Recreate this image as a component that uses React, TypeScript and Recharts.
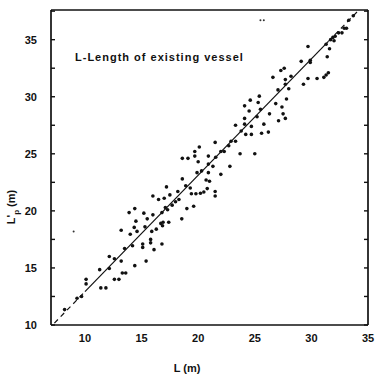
import React from 'react';
import { ScatterChart, Scatter, XAxis, YAxis, ReferenceLine } from 'recharts';

const lengthL = [
  8.2, 9.3, 9.7, 10.1, 10.1, 11.3, 11.4, 11.85, 12.15, 12.15,
  12.6, 12.6, 13.0, 13.2, 13.3, 13.6, 13.2, 13.5, 13.9, 14.0,
  14.2, 14.35, 14.4, 14.4, 14.5, 14.6, 15.1, 15.1, 15.2, 15.3,
  15.4, 15.5, 15.8, 15.8, 15.9, 16.0, 16.0, 16.1, 16.3, 16.5,
  16.7, 16.8, 16.8, 16.85, 16.9, 17.0, 17.1, 17.2, 17.3, 17.4,
  17.5, 17.7, 18.0, 18.2, 18.3, 18.55, 18.6, 18.6, 19.1, 18.9,
  19.0, 19.3, 19.4, 19.6, 19.7, 19.7, 19.8, 20.2, 20.5, 19.9,
  20.0, 20.1, 20.3, 20.7, 21.0, 20.8, 20.9, 20.9, 20.9, 21.3,
  21.5, 21.5, 21.5, 21.55, 22.0, 22.0, 22.3, 22.7, 22.9, 22.8,
  23.3, 23.3, 23.7, 23.8, 24.1, 24.1, 24.1, 24.2, 24.5, 24.6,
  24.7, 24.7, 25.0, 25.2, 25.3, 25.4, 25.5, 25.6, 25.8, 26.2,
  26.3, 26.6, 26.85, 27.05, 27.1, 27.3, 27.4, 27.5, 27.6, 27.7,
  27.7, 27.7, 27.8, 28.0, 28.2, 29.1, 29.3, 29.7, 29.7, 29.9,
  29.9, 30.5, 31.1, 31.3, 31.5, 31.4, 31.6, 31.3, 31.7, 31.9,
  32.1, 32.0, 32.4, 32.7, 32.9, 33.1, 33.3, 33.7,
];

const lengthLp = [
  11.35, 12.35, 12.5, 14.0, 13.6, 14.85, 13.25, 13.25, 16.0, 14.95,
  15.8, 14.0, 14.0, 15.6, 14.55, 14.55, 18.3, 16.7, 19.85, 17.95,
  16.95, 18.55, 15.2, 20.2, 19.1, 18.2, 16.8, 17.1, 19.8, 18.6,
  15.6, 19.3, 17.2, 17.5, 18.2, 19.65, 21.3, 16.6, 18.4, 21.0,
  18.9, 19.85, 17.1, 18.7, 19.0, 21.1, 20.3, 22.1, 20.1, 19.0,
  21.4, 20.5, 20.8, 21.7, 21.0, 19.3, 22.8, 24.6, 24.6, 22.2,
  20.2, 22.0, 21.5, 20.4, 25.2, 24.8, 21.5, 21.55, 21.65, 23.35,
  24.3, 25.6, 23.5, 22.7, 22.6, 21.95, 23.35, 24.1, 24.8, 23.9,
  21.7, 21.3, 26.0, 24.7, 23.2, 25.2, 25.2, 25.7, 26.1, 23.9,
  27.5, 26.1, 25.0, 27.0, 28.1, 27.6, 29.2, 26.7, 28.75, 29.7,
  26.7, 27.4, 25.0, 28.25, 29.5, 30.05, 28.9, 26.8, 27.6, 26.9,
  28.5, 31.7, 29.4, 30.6, 27.9, 32.3, 29.1, 28.5, 32.5, 31.5,
  31.1, 28.1, 29.8, 30.7, 31.8, 33.1, 31.1, 34.4, 31.6, 33.2,
  33.0, 31.6, 31.7, 31.9, 32.1, 33.5, 34.2, 34.6, 35.0, 35.2,
  35.3, 34.9, 35.6, 35.6, 36.0, 36.0, 36.7, 37.1,
];

// faint specks in the scan
const speckL = [9.0, 25.5, 25.8];
const speckLp = [18.2, 36.7, 36.7];

// fitted line (dashed ends, solid middle)
const lineStart = { x: 7.3, y: 10.17 };
const solidStart = { x: 10, y: 12.92 };
const solidEnd = { x: 31.5, y: 34.85 };
const lineEnd = { x: 34.1, y: 37.5 };

const xTicks = [10, 12.5, 15, 17.5, 20, 22.5, 25, 27.5, 30, 32.5, 35];
const yTicks = [10, 12.5, 15, 17.5, 20, 22.5, 25, 27.5, 30, 32.5, 35, 37.5];
const xLabelTicks = [10, 15, 20, 25, 30, 35];
const yLabelTicks = [10, 15, 20, 25, 30, 35];

const X_DOMAIN: [number, number] = [7, 35];
const Y_DOMAIN: [number, number] = [10, 37.6];

const points = lengthL.map((L, i) => ({ L, Lp: lengthLp[i] }));
const specks = speckL.map((L, i) => ({ L, Lp: speckLp[i] }));

const blank = () => '';

const tickStyle = { fontSize: 11, fontWeight: 700, fill: '#111', fontFamily: 'Liberation Sans, Arial, sans-serif' };
const frameLine = { stroke: '#111', strokeWidth: 1.7 };
const tickLineStyle = { stroke: '#111', strokeWidth: 1.4 };

const Dot = (props: any) => {
  const { cx, cy } = props;
  if (cx == null || cy == null) return null;
  return <circle cx={cx} cy={cy} r={1.8} fill="#111" />;
};

const Speck = (props: any) => {
  const { cx, cy } = props;
  if (cx == null || cy == null) return null;
  return <circle cx={cx} cy={cy} r={1} fill="#333" />;
};

export default function App() {
  return (
    <div style={{ position: 'absolute', left: 0, top: 0, width: 376, height: 379, background: '#fff', fontFamily: 'Liberation Sans, Arial, sans-serif' }}>
      <ScatterChart width={376} height={379} margin={{ top: 10, right: 8, bottom: 0, left: 0 }}>
        {/* labelled axes */}
        <XAxis xAxisId="b" dataKey="L" type="number" domain={X_DOMAIN} allowDataOverflow
          ticks={xLabelTicks} height={54} tickSize={0} tickMargin={9} tick={tickStyle}
          axisLine={frameLine} tickLine={false} />
        <YAxis yAxisId="l" dataKey="Lp" type="number" domain={Y_DOMAIN} allowDataOverflow
          ticks={yLabelTicks} width={51} tickSize={0} tickMargin={14} tick={tickStyle}
          axisLine={frameLine} tickLine={false} />
        {/* inward tick marks on all four sides */}
        <XAxis xAxisId="bm" type="number" domain={X_DOMAIN} allowDataOverflow mirror
          ticks={xTicks} tickFormatter={blank} tickSize={4} height={10}
          axisLine={false} tickLine={tickLineStyle} />
        <XAxis xAxisId="tm" orientation="top" type="number" domain={X_DOMAIN} allowDataOverflow mirror
          ticks={xTicks} tickFormatter={blank} tickSize={4} height={10}
          axisLine={frameLine} tickLine={tickLineStyle} />
        <YAxis yAxisId="lm" type="number" domain={Y_DOMAIN} allowDataOverflow mirror
          ticks={yTicks} tickFormatter={blank} tickSize={4} width={10}
          axisLine={false} tickLine={tickLineStyle} />
        <YAxis yAxisId="rm" orientation="right" type="number" domain={Y_DOMAIN} allowDataOverflow mirror
          ticks={yTicks} tickFormatter={blank} tickSize={4} width={10}
          axisLine={frameLine} tickLine={tickLineStyle} />
        <ReferenceLine xAxisId="b" yAxisId="l" segment={[lineStart, solidStart]} stroke="#111" strokeWidth={1.2} strokeDasharray="5 4" />
        <ReferenceLine xAxisId="b" yAxisId="l" segment={[solidStart, solidEnd]} stroke="#111" strokeWidth={1.2} />
        <ReferenceLine xAxisId="b" yAxisId="l" segment={[solidEnd, lineEnd]} stroke="#111" strokeWidth={1.2} strokeDasharray="5 4" />
        <Scatter xAxisId="b" yAxisId="l" data={points} shape={<Dot />} isAnimationActive={false} />
        <Scatter xAxisId="b" yAxisId="l" data={specks} shape={<Speck />} isAnimationActive={false} />
      </ScatterChart>
      <div style={{ position: 'absolute', left: 75, top: 51, fontSize: 11, fontWeight: 700, color: '#111', whiteSpace: 'nowrap', letterSpacing: 1 }}>
        L-Length of existing vessel
      </div>
      <div style={{ position: 'absolute', left: 13, top: 207, transform: 'translate(-50%, -50%) rotate(-90deg)', fontSize: 11, fontWeight: 700, color: '#111', whiteSpace: 'nowrap' }}>
        L'<sub style={{ fontSize: 8 }}>p</sub> (m)
      </div>
      <div style={{ position: 'absolute', left: 187, top: 368, transform: 'translate(-50%, -50%)', fontSize: 11, fontWeight: 700, color: '#111', whiteSpace: 'nowrap' }}>
        L (m)
      </div>
    </div>
  );
}
